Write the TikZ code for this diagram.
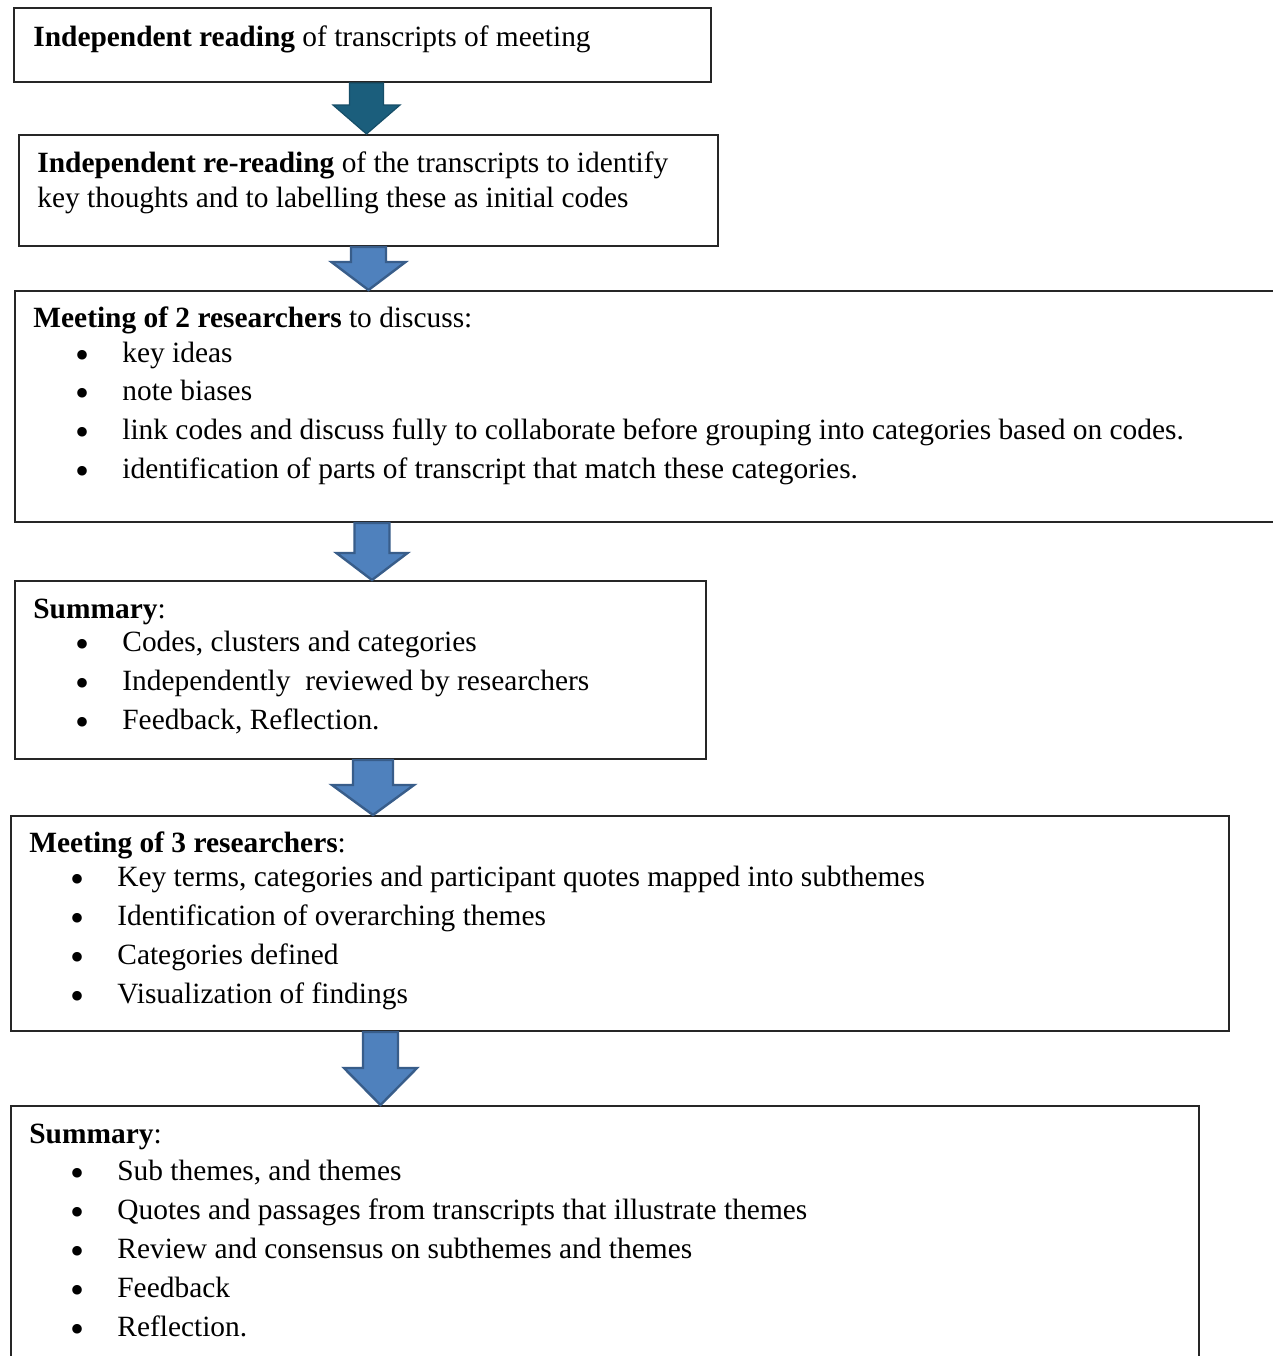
\documentclass[tikz,border=0pt]{standalone}
\usepackage{fontspec}
\setmainfont{Liberation Serif}
\usetikzlibrary{calc}
\definecolor{arrowdark}{RGB}{27,94,124}
\definecolor{arrowdarkedge}{RGB}{22,78,104}
\definecolor{arrowblue}{RGB}{79,129,189}
\definecolor{arrowedge}{RGB}{56,93,138}
\begin{document}
\begin{tikzpicture}[x=0.5pt,y=-0.5pt,
  box/.style={draw=black!85, line width=1pt, anchor=north west, inner sep=0pt},
  txt/.style={anchor=base west, inner sep=0pt, font=\fontsize{14.7}{17}\selectfont},
  bul/.style={anchor=base west, inner sep=0pt, text height=5pt, text depth=0pt,
              font=\fontsize{20}{20}\selectfont},
  darrow/.style={fill=arrowdark, draw=arrowdarkedge, line width=0.6pt, line join=miter},
  barrow/.style={fill=arrowblue, draw=arrowedge, line width=1.2pt, line join=miter}]

\useasboundingbox (0,0) rectangle (1273,1356);
\fill[white] (0,0) rectangle (1273,1356);

% ---- boxes ----
\node[box, minimum width=348.5pt, minimum height=37pt] (b1) at (13,7) {};
\node[box, minimum width=349.5pt, minimum height=55.5pt] (b2) at (18,134) {};
\node[box, minimum width=640pt, minimum height=115.5pt] (b3) at (14,290) {};
\node[box, minimum width=345.5pt, minimum height=89pt] (b4) at (14,580) {};
\node[box, minimum width=609pt, minimum height=107.5pt] (b5) at (10,815) {};
\node[box, minimum width=594pt, minimum height=140pt] (b6) at (10,1105) {};

% ---- block arrows ----
% #1 style, #2 centre x, #3 from node, #4 to node, #5 shaft half, #6 head half, #7 head length
\newcommand\blockarrow[7]{%
  \coordinate (ac) at (#2,0);
  \filldraw[#1]
    ($(ac |- #3.south)+(-#5,0)$) -- ($(ac |- #3.south)+(#5,0)$)
    -- ($(ac |- #4.north)+(#5,-#7)$) -- ($(ac |- #4.north)+(#6,-#7)$)
    -- (ac |- #4.north)
    -- ($(ac |- #4.north)+(-#6,-#7)$) -- ($(ac |- #4.north)+(-#5,-#7)$) -- cycle;}
\blockarrow{darrow}{366.5}{b1}{b2}{17}{33.5}{29}
\blockarrow{barrow}{368.5}{b2}{b3}{17.5}{37}{28}
\blockarrow{barrow}{372}{b3}{b4}{17.5}{35.5}{27}
\blockarrow{barrow}{373}{b4}{b5}{20}{41}{30}
\blockarrow{barrow}{380.5}{b5}{b6}{17.5}{36.5}{37}

% ---- texts ----
\node[txt] (t1) at (33,46) {\textbf{Independent reading} of transcripts of meeting};

\node[txt] (t2a) at (37,172) {\textbf{Independent re-reading} of the transcripts to identify};
\node[txt] (t2b) at (37,207) {key thoughts and to labelling these as initial codes};

\node[txt] (t3) at (33,327) {\textbf{Meeting of 2 researchers} to discuss:};
\foreach \yy/\tx [count=\i] in {362/key ideas, 400/note biases,
   439/link codes and discuss fully to collaborate before grouping into categories based on codes.,
   478/identification of parts of transcript that match these categories.}{
  \node[bul] (p3b\i) at (75,\yy+6) {•};
  \node[txt] (p3\i) at (122,\yy) {\tx};
}

\node[txt] (t4) at (33,618) {\textbf{Summary}:};
\foreach \yy/\tx [count=\i] in {651/{Codes, clusters and categories},
   690/Independently\ \ reviewed by researchers, 729/{Feedback, Reflection.}}{
  \node[bul] (p4b\i) at (75,\yy+6) {•};
  \node[txt] (p4\i) at (122,\yy) {\tx};
}

\node[txt] (t5) at (29,852) {\textbf{Meeting of 3 researchers}:};
\foreach \yy/\tx [count=\i] in {886/{Key terms, categories and participant quotes mapped into subthemes},
   925/Identification of overarching themes, 964/Categories defined, 1003/Visualization of findings}{
  \node[bul] (p5b\i) at (70,\yy+6) {•};
  \node[txt] (p5\i) at (117,\yy) {\tx};
}

\node[txt] (t6) at (29,1143) {\textbf{Summary}:};
\foreach \yy/\tx [count=\i] in {1180/{Sub themes, and themes},
   1219/Quotes and passages from transcripts that illustrate themes,
   1258/Review and consensus on subthemes and themes, 1297/Feedback, 1336/Reflection.}{
  \node[bul] (p6b\i) at (70,\yy+6) {•};
  \node[txt] (p6\i) at (117,\yy) {\tx};
}
\end{tikzpicture}
\end{document}
